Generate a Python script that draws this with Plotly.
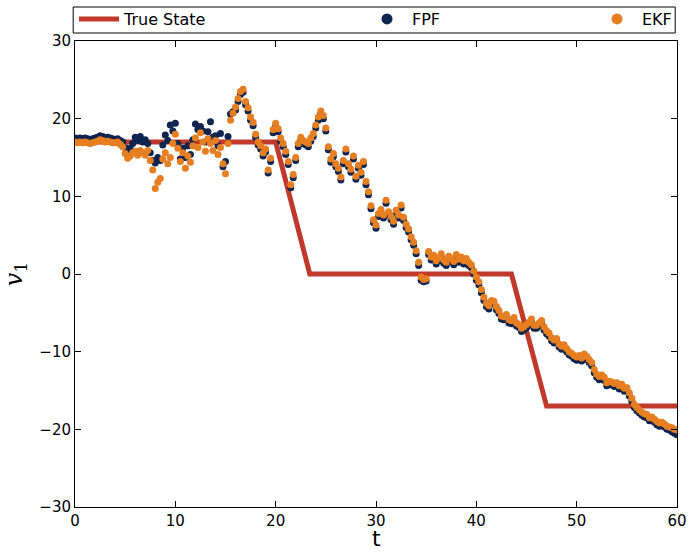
import plotly.graph_objects as go

# time grid (step 0.25)
t = [i * 0.25 for i in range(241)]

# true state breakpoints
true_t = [0, 20.0, 23.4, 43.5, 47.0, 60]
true_v = [17, 17, 0, 0, -17, -17]

ekf = [
    17.0, 16.9, 17.0, 16.9,
    17.0, 16.9, 16.8, 16.9,
    17.0, 17.1, 17.3, 17.2,
    17.0, 17.1, 17.0, 16.9,
    16.9, 17.0, 16.7, 16.4,
    15.5, 14.9, 15.2, 15.6,
    15.8, 15.3, 15.9, 15.6,
    15.3, 15.9, 14.6, 13.4,
    11.0, 11.8, 12.3, 14.8,
    15.6, 14.2, 15.0, 16.8,
    18.0, 16.2, 14.5, 15.6,
    13.6, 15.2, 14.4, 16.5,
    17.5, 16.3, 18.2, 17.0,
    15.8, 17.4, 16.8, 15.9,
    17.2, 15.4, 16.3, 14.2,
    12.9, 16.8, 19.8, 20.7,
    21.5, 22.6, 23.5, 23.8,
    22.2, 21.4, 20.2, 19.5,
    18.0, 17.0, 16.5, 15.6,
    16.1, 13.4, 14.9, 18.6,
    19.4, 18.7, 17.5, 16.8,
    15.8, 14.5, 11.5, 12.8,
    15.0, 16.8, 17.6, 17.2,
    17.0, 16.8, 17.5, 18.1,
    19.2, 20.2, 21.0, 20.4,
    18.8, 16.4, 14.8, 15.5,
    14.2, 13.6, 12.5, 14.6,
    16.1, 14.2, 13.5, 15.2,
    12.6, 14.0, 13.1, 14.5,
    11.9, 10.6, 8.8, 7.0,
    6.3, 7.8, 8.3, 7.6,
    9.5, 8.0, 7.4, 6.8,
    8.2, 7.6, 8.9, 7.3,
    6.4, 5.8, 4.8, 4.1,
    3.0, 1.5, -0.4, -0.7,
    -0.6, 2.9, 2.2, 2.4,
    1.7, 2.1, 2.6, 1.8,
    1.5, 2.3, 2.0, 1.6,
    2.5, 1.9, 2.2, 1.7,
    2.0, 1.5, 1.2, 0.4,
    -0.4, -1.0, -2.0, -3.0,
    -3.8, -4.1, -3.4, -3.5,
    -4.2, -4.7, -5.4, -5.5,
    -5.2, -5.9, -6.0, -5.6,
    -6.3, -6.5, -7.0, -6.8,
    -6.5, -6.2, -5.8, -6.6,
    -6.6, -6.3, -6.0, -6.8,
    -7.3, -7.6, -8.2, -8.5,
    -8.3, -9.0, -9.3, -9.1,
    -9.6, -10.0, -10.2, -10.5,
    -10.7, -10.5, -10.8, -10.3,
    -10.6, -11.0, -11.4, -12.3,
    -12.9, -13.2, -13.0, -13.3,
    -14.0, -13.8, -13.9, -14.1,
    -14.0, -14.4, -14.2, -14.7,
    -14.6, -15.3, -16.0, -16.8,
    -17.2, -17.5, -17.8, -18.0,
    -18.1, -18.5, -18.4, -18.7,
    -19.0, -19.2, -19.1, -19.3,
    -19.6, -19.7, -19.8, -20.0,
    -20.1,
]

fpf = [
    17.5, 17.4, 17.5, 17.4,
    17.5, 17.4, 17.3, 17.4,
    17.5, 17.6, 17.8, 17.7,
    17.5, 17.6, 17.5, 17.4,
    17.3, 17.4, 17.2, 17.0,
    16.3, 15.8, 16.2, 16.8,
    17.6, 17.2, 17.7, 17.0,
    17.3, 16.8, 15.6, 14.6,
    14.3, 15.0, 14.6, 16.6,
    17.9, 17.2, 19.2, 18.4,
    19.4, 16.8, 14.8, 16.2,
    15.0, 16.5, 15.4, 17.3,
    19.3, 18.6, 19.0, 18.4,
    17.0, 18.3, 19.6, 17.6,
    17.8, 16.5, 18.1, 13.8,
    14.5, 17.7, 20.6, 20.9,
    21.1, 22.2, 23.1, 23.4,
    21.8, 21.0, 19.8, 19.1,
    17.6, 16.6, 16.1, 15.2,
    15.7, 13.0, 14.5, 18.2,
    19.0, 18.3, 17.1, 16.4,
    15.4, 14.1, 11.1, 12.4,
    14.6, 16.4, 17.2, 16.8,
    16.6, 16.4, 17.1, 17.7,
    18.8, 19.8, 20.6, 20.0,
    18.4, 16.0, 14.4, 15.1,
    13.8, 13.2, 12.1, 14.2,
    15.7, 13.8, 13.1, 14.8,
    12.2, 13.6, 12.7, 14.1,
    11.5, 10.2, 8.4, 6.6,
    5.9, 7.4, 7.9, 7.2,
    9.1, 7.6, 7.0, 6.4,
    7.8, 7.2, 8.5, 6.9,
    6.0, 5.4, 4.4, 3.7,
    2.6, 1.1, -0.8, -1.0,
    -0.9, 2.5, 1.8, 2.0,
    1.3, 1.7, 2.2, 1.4,
    1.1, 1.9, 1.6, 1.2,
    2.1, 1.5, 1.8, 1.3,
    1.6, 1.1, 0.8, 0.0,
    -0.8, -1.4, -2.4, -3.4,
    -4.2, -4.5, -3.8, -3.9,
    -4.6, -5.1, -5.8, -5.9,
    -5.6, -6.3, -6.4, -6.0,
    -6.7, -6.9, -7.4, -7.2,
    -6.9, -6.6, -6.2, -7.0,
    -7.0, -6.7, -6.4, -7.2,
    -7.7, -8.0, -8.6, -8.9,
    -8.7, -9.4, -9.7, -9.5,
    -10.0, -10.4, -10.6, -10.9,
    -11.1, -10.9, -11.2, -10.7,
    -11.0, -11.4, -11.8, -12.7,
    -13.3, -13.6, -13.4, -13.7,
    -14.4, -14.2, -14.3, -14.5,
    -14.4, -14.8, -14.6, -15.1,
    -15.0, -15.7, -16.4, -17.2,
    -17.6, -17.9, -18.2, -18.4,
    -18.5, -18.9, -18.8, -19.1,
    -19.4, -19.6, -19.5, -19.7,
    -20.0, -20.1, -20.3, -20.5,
    -20.7,
]

x_ticks = [0, 10, 20, 30, 40, 50, 60]
y_ticks = [-30, -20, -10, 0, 10, 20, 30]

RED = "#c0392b"
NAVY = "#0f2550"
ORANGE = "#e67e22"
FONT = "DejaVu Sans"

fig = go.Figure()
fig.add_trace(go.Scatter(x=true_t, y=true_v, mode="lines", name="True State",
                         line=dict(color=RED, width=5), legend="legend"))
fig.add_trace(go.Scatter(x=t, y=fpf, mode="markers", name="FPF", showlegend=False,
                         marker=dict(color=NAVY, size=7, line=dict(width=0))))
fig.add_trace(go.Scatter(x=t, y=ekf, mode="markers", name="EKF", showlegend=False,
                         marker=dict(color=ORANGE, size=7, line=dict(width=0))))
# legend-only entries with larger markers
fig.add_trace(go.Scatter(x=[None], y=[None], mode="markers", name="FPF",
                         marker=dict(color=NAVY, size=11), legend="legend2"))
fig.add_trace(go.Scatter(x=[None], y=[None], mode="markers", name="EKF",
                         marker=dict(color=ORANGE, size=11), legend="legend3"))

leg_common = dict(orientation="h", yanchor="middle", xanchor="left",
                  xref="container", yref="container", itemwidth=40,
                  bgcolor="rgba(0,0,0,0)", borderwidth=0,
                  font=dict(family=FONT, size=16, color="black"))
ly = 1 - 19 / 552

fig.update_layout(
    width=689, height=552,
    margin=dict(l=75, r=12, t=41, b=45, autoexpand=False),
    paper_bgcolor="white", plot_bgcolor="white",
    font=dict(family=FONT, size=15, color="black"),
    legend=dict(x=74 / 689, y=ly, **leg_common),
    legend2=dict(x=362 / 689, y=ly, **leg_common),
    legend3=dict(x=592 / 689, y=ly, **leg_common),
    xaxis=dict(range=[0, 60], tickvals=x_ticks, ticks="inside", ticklen=6,
               tickcolor="black", showline=True, linecolor="black", linewidth=1,
               mirror="ticks", showgrid=False, zeroline=False, automargin=False,
               tickfont=dict(family=FONT, size=15)),
    yaxis=dict(range=[-30, 30], tickvals=y_ticks, ticks="inside", ticklen=6,
               tickcolor="black", showline=True, linecolor="black", linewidth=1,
               mirror="ticks", showgrid=False, zeroline=False, automargin=False,
               title=dict(text="<i>v</i><sub>1</sub>",
                          font=dict(family="DejaVu Serif", size=24), standoff=16),
               tickfont=dict(family=FONT, size=15)),
    annotations=[dict(text="t", xref="paper", yref="paper", x=0.5,
                      y=(507 - 538) / 466, yanchor="middle", showarrow=False,
                      borderpad=0,
                      font=dict(family=FONT, size=22, color="black"))],
    shapes=[dict(type="rect", xref="paper", yref="paper",
                 x0=-0.003, x1=0.997, y0=(507 - 33) / 466, y1=(507 - 7) / 466,
                 line=dict(color="black", width=1), fillcolor="rgba(0,0,0,0)")],
)

fig.write_html("out.html")
